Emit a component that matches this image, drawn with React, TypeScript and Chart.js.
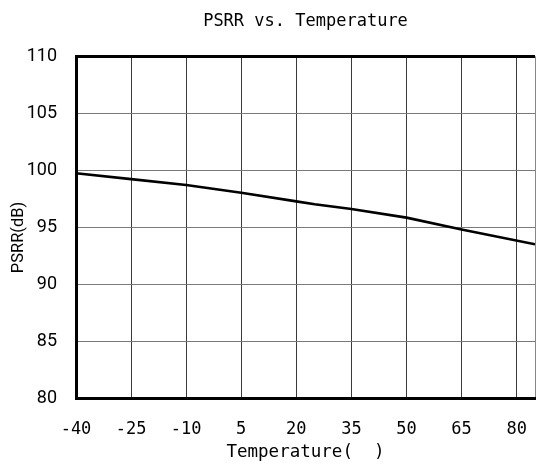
import React, { useEffect, useRef } from "react";
import { Chart, registerables } from "chart.js";

Chart.register(...registerables);

const temperatures = [-40, -25, -10, 5, 20, 25, 35, 50, 65, 85];
const psrrValues = [99.74, 99.22, 98.7, 98.03, 97.27, 97.02, 96.6, 95.84, 94.8, 93.5];
const xTickValues = [-40, -25, -10, 5, 20, 35, 50, 65, 80, 85];
const xTickLabels = ["-40", "-25", "-10", "5", "20", "35", "50", "65", "80", ""];
const yTickValues = [80, 85, 90, 95, 100, 105, 110];

const TITLE = "PSRR vs. Temperature";
const X_TITLE = "Temperature(  )";
const Y_TITLE = "PSRR(dB)     ";

const MONO = "'DejaVu Sans Mono', monospace";
const SANS = "Roboto, 'Noto Sans', sans-serif";

export default function App() {
  const ref = useRef<HTMLCanvasElement | null>(null);

  useEffect(() => {
    const canvas = ref.current;
    if (!canvas) return;
    const chart = new Chart(canvas, {
      type: "line",
      data: {
        datasets: [
          {
            data: temperatures.map((t, i) => ({ x: t, y: psrrValues[i] })),
            borderColor: "#000000",
            borderWidth: 2.6,
            pointRadius: 0,
            tension: 0,
            fill: false,
          },
        ],
      },
      options: {
        responsive: false,
        animation: false,
        events: [],
        layout: { padding: { left: 0, right: 1, top: 0, bottom: 0 }, autoPadding: false },
        plugins: {
          legend: { display: false },
          tooltip: { enabled: false },
          title: {
            display: true,
            text: TITLE,
            fullSize: false,
            color: "#000000",
            font: { family: MONO, size: 17, weight: "normal" },
            padding: { top: 11, bottom: 25 },
          },
        },
        scales: {
          x: {
            type: "linear",
            min: -40,
            max: 85,
            afterBuildTicks: (scale: any) => {
              scale.ticks = xTickValues.map((v) => ({ value: v }));
            },
            afterFit: (scale: any) => {
              scale.height = 69;
            },
            ticks: {
              autoSkip: false,
              maxRotation: 0,
              padding: 0,
              color: "#000000",
              font: { family: MONO, size: 17 },
              callback: (v: any) => {
                const i = xTickValues.indexOf(Number(v));
                return i >= 0 ? xTickLabels[i] : "";
              },
            },
            grid: {
              drawTicks: true,
              tickLength: 21,
              tickColor: "rgba(0,0,0,0)",
              color: (ctx: any) => (ctx.tick && ctx.tick.value === 85 ? "#888888" : "#3a3a3a"),
              lineWidth: 1,
            },
            border: { display: true, color: "#000000", width: 3 },
            title: {
              display: true,
              text: X_TITLE,
              color: "#000000",
              font: { family: MONO, size: 17.5 },
              padding: { top: 0, bottom: 4 },
            },
          },
          y: {
            type: "linear",
            min: 80,
            max: 110,
            afterBuildTicks: (scale: any) => {
              scale.ticks = yTickValues.map((v) => ({ value: v }));
            },
            afterFit: (scale: any) => {
              scale.width = 76;
            },
            ticks: {
              padding: 0,
              color: "#000000",
              font: { family: SANS, size: 18 },
              callback: (v: any) => String(v),
            },
            grid: {
              drawTicks: true,
              tickLength: 19,
              tickColor: "rgba(0,0,0,0)",
              color: (ctx: any) => (ctx.tick && ctx.tick.value === 110 ? "#000000" : "#7a7a7a"),
              lineWidth: (ctx: any) => (ctx.tick && ctx.tick.value === 110 ? 3 : 1),
            },
            border: { display: true, color: "#000000", width: 3 },
            title: {
              display: true,
              text: Y_TITLE,
              color: "#000000",
              font: { family: SANS, size: 16.5 },
              padding: { top: 9, bottom: 0 },
            },
          },
        },
      },
    });
    return () => chart.destroy();
  }, []);

  return (
    <canvas
      ref={ref}
      width={536}
      height={467}
      style={{ position: "absolute", left: 0, top: 0, width: "536px", height: "467px", background: "#ffffff" }}
    />
  );
}
